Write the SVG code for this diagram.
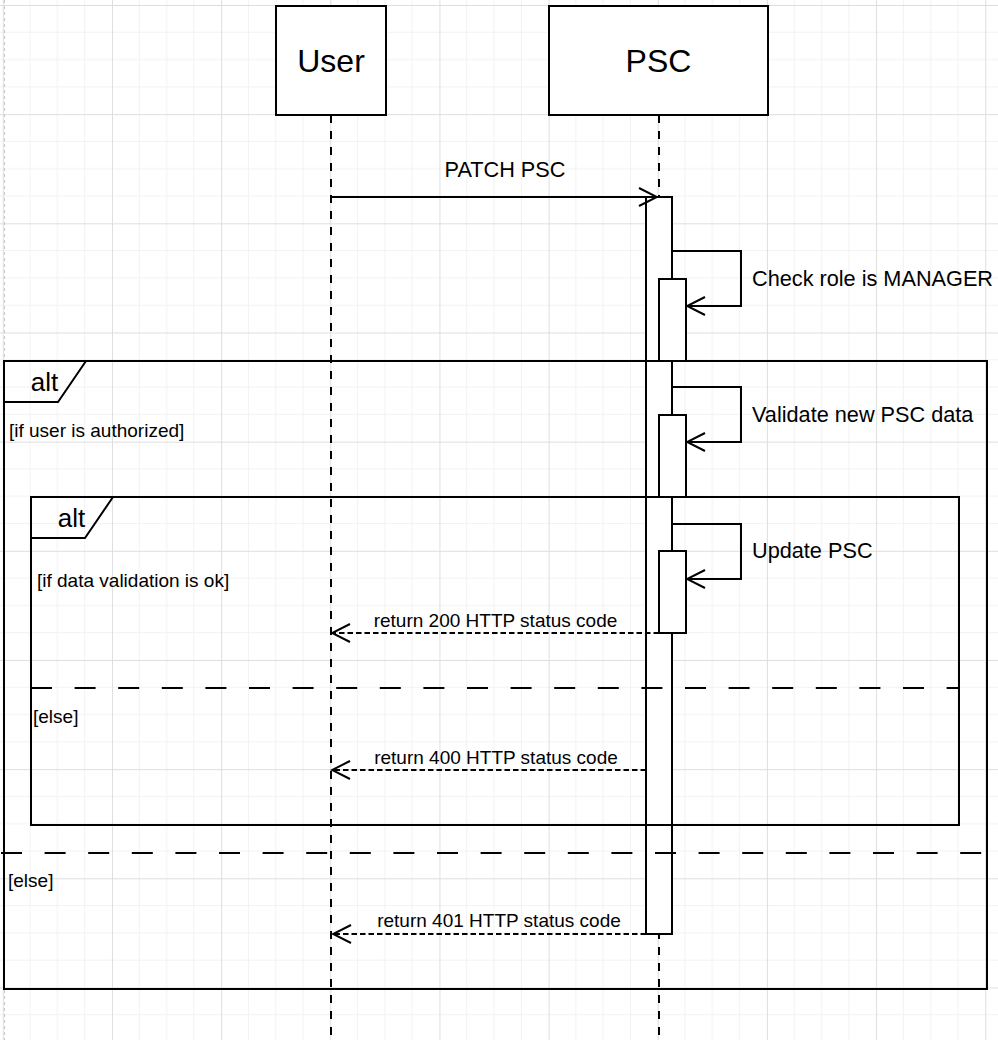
<svg xmlns="http://www.w3.org/2000/svg" width="998" height="1040" viewBox="0 0 998 1040">
<defs>
<pattern id="grid" patternUnits="userSpaceOnUse" x="2.8" y="5" width="109.16" height="109.16">
<path d="M27.29,0V109.16M54.58,0V109.16M81.87,0V109.16M0,27.29H109.16M0,54.58H109.16M0,81.87H109.16" stroke="#f2f2f2" stroke-width="1" fill="none"/>
<path d="M0.5,0V109.16M0,0.5H109.16" stroke="#dedede" stroke-width="1" fill="none"/>
</pattern>
<marker id="open" viewBox="0 0 22 22" refX="20" refY="11" markerWidth="22" markerHeight="22" markerUnits="userSpaceOnUse" orient="auto">
<path d="M2,2 L20,11 L2,20" fill="none" stroke="#000" stroke-width="2"/>
</marker>
</defs>
<style>
text{font-family:"Liberation Sans",Arial,Helvetica,sans-serif;fill:#000}
.box{fill:#fff;stroke:#000;stroke-width:2}
.life{stroke:#000;stroke-width:2;stroke-dasharray:8 8;fill:none}
.bar{fill:#fff;stroke:#000;stroke-width:2}
.frame{fill:none;stroke:#000;stroke-width:2}
.div{stroke:#000;stroke-width:2;stroke-dasharray:21 22.6;fill:none}
.msg{fill:none;stroke:#000;stroke-width:2;marker-end:url(#open)}
.ret{fill:none;stroke:#000;stroke-width:2;stroke-dasharray:5.5 3;marker-end:url(#open)}
.big{font-size:32px;text-anchor:middle}
.lbl{font-size:21.7px}
.sm{font-size:19px}
.alt{font-size:26px;text-anchor:middle}
</style>
<rect width="998" height="1040" fill="#fff"/>
<rect width="998" height="1040" fill="url(#grid)"/>
<line x1="4.5" y1="0" x2="4.5" y2="1040" stroke="#c8c8c8" stroke-width="1" stroke-dasharray="3 3"/>

<g id="lifelines">
<line class="life" x1="331" y1="115" x2="331" y2="1040"/>
<line class="life" x1="659" y1="115" x2="659" y2="1040"/>
</g>

<g id="user">
<rect class="box" x="276" y="6" width="110" height="109"/>
<text class="big" x="331" y="72">User</text>
</g>
<g id="psc">
<rect class="box" x="549" y="6" width="219" height="109"/>
<text class="big" x="658.5" y="72">PSC</text>
</g>

<g id="activations">
<rect class="bar" x="646" y="197" width="26" height="737"/>
<rect class="bar" x="659" y="279" width="27" height="82"/>
<rect class="bar" x="659" y="415" width="27" height="82"/>
<rect class="bar" x="659" y="551" width="27" height="82"/>
</g>

<g id="outer-alt">
<rect class="frame" x="4" y="361" width="983" height="628"/>
<path class="frame" d="M4,402 H58 L86,361"/>
<text class="alt" x="44.5" y="391">alt</text>
<text class="sm" x="9" y="437">[if user is authorized]</text>
<line class="div" x1="1" y1="853" x2="986" y2="853"/>
<text class="sm" x="8" y="887">[else]</text>
</g>

<g id="inner-alt">
<rect class="frame" x="31" y="497" width="928" height="328"/>
<path class="frame" d="M31,538 H85 L113,497"/>
<text class="alt" x="71.5" y="527">alt</text>
<text class="sm" x="37" y="587">[if data validation is ok]</text>
<line class="div" x1="31" y1="688" x2="959" y2="688"/>
<text class="sm" x="33" y="723">[else]</text>
</g>

<g id="connectors">
<line class="msg" x1="331" y1="197" x2="657" y2="197"/>
<text class="lbl" x="505" y="177" text-anchor="middle">PATCH PSC</text>
<polyline class="msg" points="672,251 741,251 741,306 687,306"/>
<text class="lbl" x="752" y="286">Check role is MANAGER</text>
<polyline class="msg" points="672,387 741,387 741,442 687,442"/>
<text class="lbl" x="752" y="422">Validate new PSC data</text>
<polyline class="msg" points="672,524 741,524 741,579 687,579"/>
<text class="lbl" x="752" y="558">Update PSC</text>
<line class="ret" x1="659" y1="633" x2="332" y2="633"/>
<text class="sm" x="495.5" y="627" text-anchor="middle">return 200 HTTP status code</text>
<line class="ret" x1="646" y1="770" x2="332" y2="770"/>
<text class="sm" x="496" y="764" text-anchor="middle">return 400 HTTP status code</text>
<line class="ret" x1="646" y1="934" x2="333" y2="934"/>
<text class="sm" x="499" y="927" text-anchor="middle">return 401 HTTP status code</text>
</g>
</svg>
